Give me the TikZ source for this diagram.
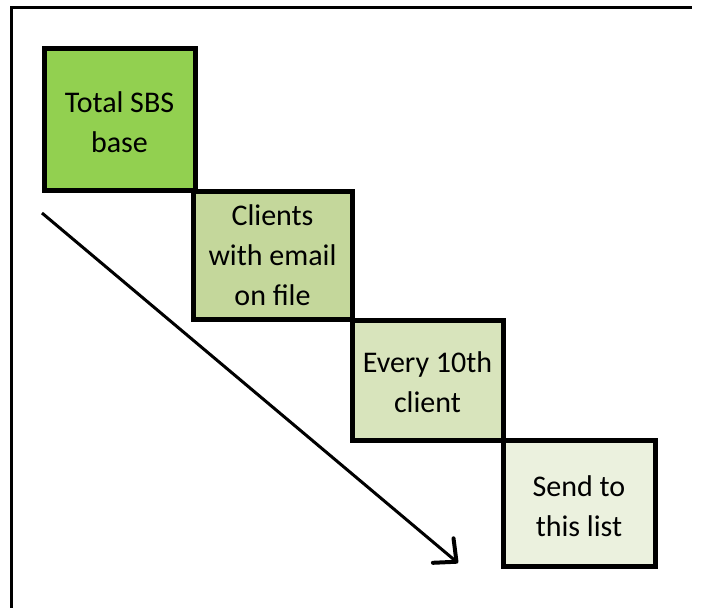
\documentclass[tikz,border=0pt]{standalone}
\usepackage{fontspec}
\setmainfont{Carlito}
\usetikzlibrary{arrows.meta}
\definecolor{boxA}{HTML}{92D050}
\definecolor{boxB}{HTML}{C4D79B}
\definecolor{boxC}{HTML}{D8E4BC}
\definecolor{boxD}{HTML}{EBF1DE}
\tikzset{
  stagebox/.style={draw=black, line width=3.75pt, inner sep=0pt},
  stagetext/.style={align=center, inner sep=0pt,
    font=\fontsize{22.5}{30}\selectfont, text=black},
}
\begin{document}
\begin{tikzpicture}[x=0.75pt, y=-0.75pt]
  \useasboundingbox (0,0) rectangle (702,607);
  % outer frame (left and top edges)
  \draw[line width=2.25pt] (11,620) -- (11,7) -- (692,7);
  % stages, stepping down to the right
  \node[stagebox, fill=boxA, minimum width=113.25pt, minimum height=106.5pt] (total) at (119.5,119) {};
  \node[stagebox, fill=boxB, minimum width=119.25pt, minimum height=96pt] (email) at (272.5,255) {};
  \node[stagebox, fill=boxC, minimum width=113.25pt, minimum height=90pt] (tenth) at (427.5,380) {};
  \node[stagebox, fill=boxD, minimum width=114pt, minimum height=94.5pt] (send) at (579,503) {};
  \node[stagetext] (totaltext) at ([yshift=-2.6pt]total.center) {Total SBS\\base};
  \node[stagetext] (emailtext) at (email.center) {Clients\\with email\\on file};
  \node[stagetext] (tenthtext) at ([yshift=-1.5pt]tenth.center) {Every 10th\\client};
  \node[stagetext] (sendtext) at ([yshift=-2.6pt]send.center) {Send to\\this list};
  % direction arrow
  \coordinate (arrowstart) at (42,213);
  \coordinate (arrowend) at (458,563);
  \draw[line width=2.25pt, -{Straight Barb[length=13pt, width=24pt, line width=3pt, round]}] (arrowstart) -- (arrowend);
\end{tikzpicture}
\end{document}
